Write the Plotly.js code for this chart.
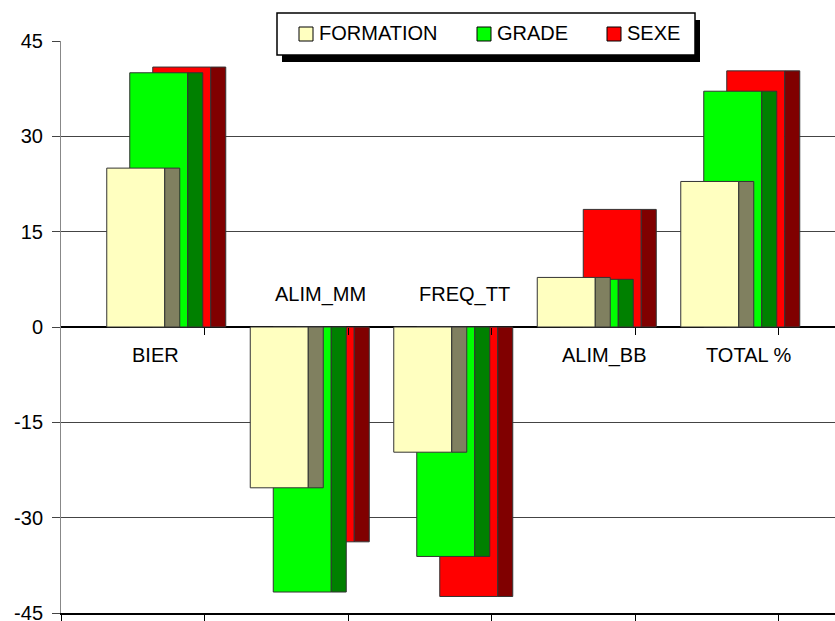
<!DOCTYPE html>
<html>
<head>
<meta charset="utf-8">
<script src="https://cdn.plot.ly/plotly-3.0.1.min.js"></script>
<style>html,body{margin:0;padding:0;background:#fff;}#chart{width:835px;height:621px;}</style>
</head>
<body>
<div id="chart"></div>
<script>
// ---- data ----
const categories = ["BIER", "ALIM_MM", "FREQ_TT", "ALIM_BB", "TOTAL %"];
const seriesNames = ["FORMATION", "GRADE", "SEXE"];
const formation = [25.0, -25.3, -19.7, 7.8, 22.9];
const grade = [40.0, -41.7, -36.1, 7.5, 37.1];
const sexe = [40.9, -33.8, -42.4, 18.5, 40.3];
const yTickVals = [45, 30, 15, 0, -15, -30, -45];
const yTickText = ["45", "30", "15", "0", "-15", "-30", "-45"];

// ---- styling ----
const FONT = "Liberation Sans, Arial, sans-serif";
const W = 835, H = 621;
const M = {l: 61, r: 0, t: 41, b: 8};
const catPx = 143.5;
const plotW = W - M.l - M.r, plotH = H - M.t - M.b;
const xMax = -0.5 + plotW / catPx;
const frontW = 58 / catPx, sideW = 15 / catPx, step = 23 / catPx, firstOff = -26 / catPx;
const frontCols = ["#FFFFC0", "#00FF00", "#FF0000"];
const sideCols = ["#808060", "#008000", "#800000"];
const values = [formation, grade, sexe];
const xs = categories.map((c, i) => i);

const traces = [];
// draw back-most series first (SEXE), front-most last (FORMATION)
for (let s = 2; s >= 0; s--) {
  const off = firstOff + s * step;
  traces.push({type: "bar", x: xs, y: values[s], name: seriesNames[s], offset: off, width: frontW,
    marker: {color: frontCols[s], line: {color: "#333", width: 1}}, showlegend: false, hoverinfo: "skip"});
  traces.push({type: "bar", x: xs, y: values[s], name: seriesNames[s] + " side", offset: off + frontW, width: sideW,
    marker: {color: sideCols[s], line: {color: "#333", width: 1}}, showlegend: false, hoverinfo: "skip"});
}

const px2x = p => (p - M.l) / plotW;
const px2y = p => (H - M.b - p) / plotH;

const shapes = [];
const annotations = [];
// legend box with shadow
const lb = {x0: 277, y0: 13, x1: 695, y1: 55};
shapes.push({type: "rect", xref: "paper", yref: "paper", x0: px2x(lb.x0 + 5), x1: px2x(lb.x1 + 5), y0: px2y(lb.y1 + 7), y1: px2y(lb.y0 + 7),
  fillcolor: "#000", line: {width: 0}, layer: "above"});
shapes.push({type: "rect", xref: "paper", yref: "paper", x0: px2x(lb.x0), x1: px2x(lb.x1), y0: px2y(lb.y1), y1: px2y(lb.y0),
  fillcolor: "#fff", line: {color: "#000", width: 1.5}, layer: "above"});
const swX = [299, 477, 607];
seriesNames.forEach((n, i) => {
  shapes.push({type: "rect", xref: "paper", yref: "paper", x0: px2x(swX[i]), x1: px2x(swX[i] + 14), y0: px2y(41), y1: px2y(27),
    fillcolor: frontCols[i], line: {color: "#000", width: 1}, layer: "above"});
  annotations.push({xref: "paper", yref: "paper", x: px2x(swX[i] + 18), y: px2y(33.5), xanchor: "left", yanchor: "middle",
    text: n, showarrow: false, font: {family: FONT, size: 20, color: "#000"}});
});
// category labels near the zero line
categories.forEach((c, i) => {
  const neg = formation[i] < 0;
  annotations.push({xref: "x", yref: "y", x: i, y: 0, xanchor: "left", yanchor: "middle", xshift: -3,
    yshift: neg ? 33 : -28, text: c, showarrow: false, font: {family: FONT, size: 20, color: "#000"}});
});

const boundaries = [-0.5, 0.5, 1.5, 2.5, 3.5, 4.5];

const layout = {
  width: W, height: H, margin: M, paper_bgcolor: "#fff", plot_bgcolor: "#fff",
  barmode: "overlay", showlegend: false,
  font: {family: FONT, size: 20, color: "#000"},
  xaxis: {range: [-0.5, xMax], tickmode: "array", tickvals: boundaries, showticklabels: false,
    ticks: "outside", ticklen: 8, tickcolor: "#000", tickwidth: 1, showgrid: false, zeroline: false,
    showline: true, linecolor: "#000", linewidth: 2, fixedrange: true},
  xaxis2: {range: [-0.5, xMax], overlaying: "x", anchor: "free", position: 0.5, side: "bottom",
    tickmode: "array", tickvals: boundaries.slice(1), showticklabels: false, ticks: "outside", ticklen: 7,
    tickcolor: "#000", tickwidth: 1, showgrid: false, zeroline: false, showline: false},
  yaxis: {range: [-45, 45], tickmode: "array", tickvals: yTickVals, ticktext: yTickText,
    ticks: "outside", ticklen: 8, tickcolor: "#444", tickwidth: 1,
    showgrid: true, gridcolor: "#444", gridwidth: 1,
    zeroline: true, zerolinecolor: "#000", zerolinewidth: 2,
    showline: true, linecolor: "#888", linewidth: 1, ticklabelstandoff: 5, ticklabeloverflow: "allow",
    tickfont: {family: FONT, size: 20, color: "#000"}, fixedrange: true},
  shapes: shapes, annotations: annotations
};

// dummy trace to activate xaxis2
traces.push({type: "scatter", x: [0], y: [null], xaxis: "x2", yaxis: "y", showlegend: false, hoverinfo: "skip"});

Plotly.newPlot("chart", traces, layout, {displayModeBar: false, staticPlot: true});
</script>
</body>
</html>
